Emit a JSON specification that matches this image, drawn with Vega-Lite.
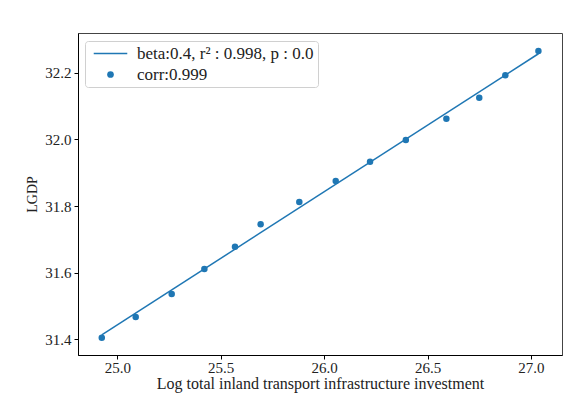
{
  "$schema": "https://vega.github.io/schema/vega-lite/v6.json",
  "width": 484,
  "height": 322,
  "autosize": {"type": "none"},
  "padding": {"left": 78, "top": 33, "right": 15, "bottom": 50},
  "background": "white",
  "config": {
    "font": "Liberation Serif",
    "view": {"stroke": "#444", "strokeWidth": 1},
    "axis": {
      "grid": false,
      "domainColor": "black",
      "tickColor": "black",
      "tickSize": 4,
      "labelFont": "Liberation Serif",
      "labelFontSize": 15,
      "labelColor": "#222",
      "titleFont": "Liberation Serif",
      "titleFontWeight": "normal",
      "titleColor": "#222"
    }
  },
  "data": {
    "values": [
      {"x": 24.925, "LGDP": 31.405, "lab": "corr:0.999"},
      {"x": 25.089, "LGDP": 31.467, "lab": "corr:0.999"},
      {"x": 25.263, "LGDP": 31.536, "lab": "corr:0.999"},
      {"x": 25.421, "LGDP": 31.611, "lab": "corr:0.999"},
      {"x": 25.569, "LGDP": 31.678, "lab": "corr:0.999"},
      {"x": 25.693, "LGDP": 31.745, "lab": "corr:0.999"},
      {"x": 25.880, "LGDP": 31.812, "lab": "corr:0.999"},
      {"x": 26.056, "LGDP": 31.875, "lab": "corr:0.999"},
      {"x": 26.222, "LGDP": 31.933, "lab": "corr:0.999"},
      {"x": 26.395, "LGDP": 31.998, "lab": "corr:0.999"},
      {"x": 26.591, "LGDP": 32.062, "lab": "corr:0.999"},
      {"x": 26.750, "LGDP": 32.125, "lab": "corr:0.999"},
      {"x": 26.876, "LGDP": 32.192, "lab": "corr:0.999"},
      {"x": 27.036, "LGDP": 32.265, "lab": "corr:0.999"}
    ]
  },
  "layer": [
    {
      "transform": [{"regression": "LGDP", "on": "x"}],
      "mark": {"type": "line", "color": "#1f77b4", "strokeWidth": 1.5},
      "encoding": {
        "x": {"field": "x", "type": "quantitative"},
        "y": {"field": "LGDP", "type": "quantitative"}
      }
    },
    {
      "mark": {"type": "point", "filled": true, "color": "#1f77b4", "opacity": 1, "size": 42},
      "encoding": {
        "x": {
          "field": "x",
          "type": "quantitative",
          "title": "Log total inland transport infrastructure investment",
          "scale": {"domain": [24.81, 27.15], "nice": false, "zero": false},
          "axis": {"values": [25.0, 25.5, 26.0, 26.5, 27.0], "format": ".1f", "labelPadding": 1, "titlePadding": 0, "titleFontSize": 16}
        },
        "y": {
          "field": "LGDP",
          "type": "quantitative",
          "title": "LGDP",
          "scale": {"domain": [31.353, 32.319], "nice": false, "zero": false},
          "axis": {"values": [31.4, 31.6, 31.8, 32.0, 32.2], "format": ".1f", "labelPadding": 3, "titlePadding": 5, "titleFontSize": 14}
        },
        "shape": {
          "field": "lab",
          "type": "nominal",
          "scale": {
            "domain": ["beta:0.4, r² : 0.998, p : 0.0", "corr:0.999"],
            "range": ["M-5,-0.24L5,-0.24L5,0.24L-5,0.24Z", "circle"]
          },
          "legend": {
            "title": null,
            "orient": "none",
            "legendX": 7,
            "legendY": 8,
            "padding": 4,
            "strokeColor": "#d0d0d0",
            "fillColor": "white",
            "cornerRadius": 3,
            "labelFont": "Liberation Serif",
            "labelFontSize": 17,
            "labelColor": "#222",
            "labelLimit": 500,
            "labelOffset": 18,
            "symbolOffset": 13,
            "rowPadding": 3,
            "symbolSize": 45,
            "symbolType": "circle",
            "encode": {
              "symbols": {
                "update": {
                  "fill": {"value": "#1f77b4"},
                  "stroke": {"value": "#1f77b4"},
                  "strokeWidth": {"value": 0},
                  "opacity": {"value": 1}
                }
              }
            }
          }
        }
      }
    }
  ]
}
